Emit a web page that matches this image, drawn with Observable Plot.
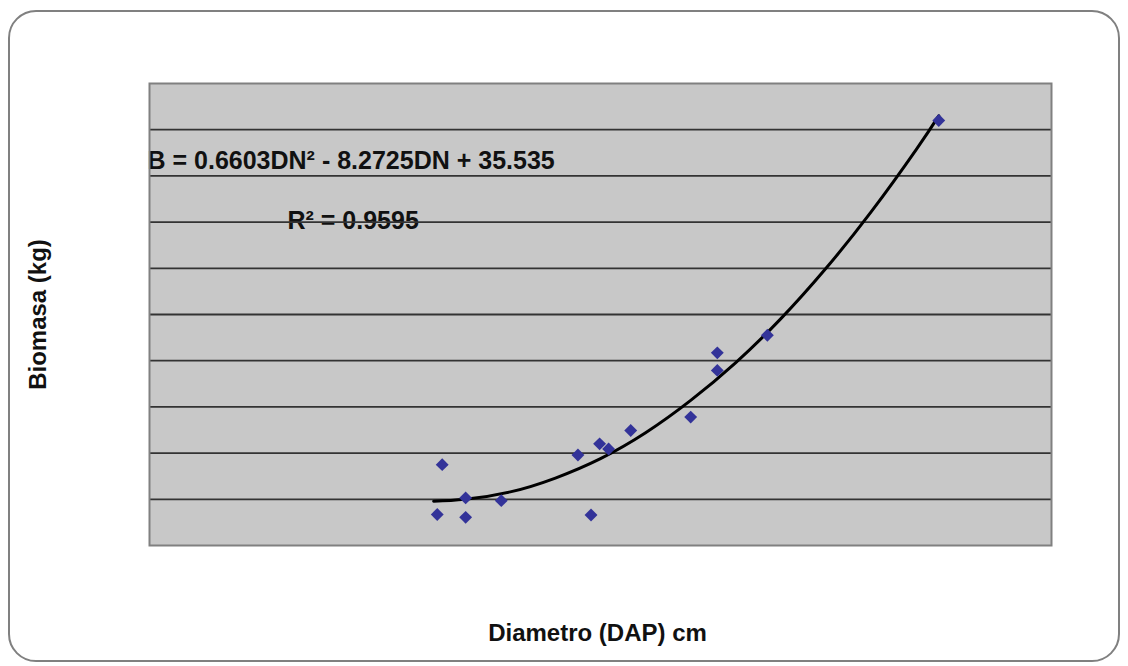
<!DOCTYPE html>
<html><head><meta charset="utf-8">
<script src="https://cdn.jsdelivr.net/npm/d3@7"></script>
<script src="https://cdn.jsdelivr.net/npm/@observablehq/plot@0.6"></script>
<style>
body{margin:0;background:#fff;}
#wrap{position:relative;width:1128px;height:666px;overflow:hidden;}
#wrap svg{display:block;}
#border{position:absolute;left:8px;top:10px;width:1112px;height:652px;border:2px solid #808080;border-radius:28px;box-sizing:border-box;pointer-events:none;}
</style></head><body>
<div id="wrap"><div id="border"></div></div>
<script>
// Scatter data (Diametro DAP cm, Biomasa kg)
const diametro = [6.49, 6.38, 7.01, 7.01, 7.80, 9.50, 9.98, 10.18, 10.67, 9.79, 12.00, 12.59, 12.59, 13.70, 17.50];
const biomasa  = [17.5, 6.7, 10.3, 6.1, 9.7, 19.6, 22.0, 20.9, 24.9, 6.6, 27.8, 41.7, 37.9, 45.5, 92.0];
// Polynomial trend line points
const trendD = [6.3, 7, 8, 9, 10, 11, 12, 13, 14, 15, 16, 17, 17.5];
const trendB = [9.6, 10.0, 11.6, 14.6, 18.8, 24.4, 31.4, 39.6, 49.1, 60.0, 72.2, 85.7, 93.0];
// Horizontal gridline values
const gridValues = [10, 20, 30, 40, 50, 60, 70, 80, 90];
const equationText = "B = 0.6603DN² - 8.2725DN + 35.535";
const r2Text = "R² = 0.9595";
const xLabel = "Diametro (DAP) cm";
const yLabel = "Biomasa (kg)";

const points = diametro.map((d, i) => ({d, b: biomasa[i]}));
const trend = trendD.map((d, i) => ({d, b: trendB[i]}));
const font = "'Liberation Sans', Arial, sans-serif";

const chart = Plot.plot({
  width: 1128,
  height: 666,
  marginLeft: 149,
  marginRight: 77,
  marginTop: 83,
  marginBottom: 121,
  style: {fontFamily: font, background: "transparent"},
  x: {domain: [0, 20], axis: null},
  y: {domain: [0, 100], axis: null},
  marks: [
    Plot.frame({fill: "#c8c8c8", stroke: "none"}),
    Plot.text([equationText], {text: d => d, frameAnchor: "top-left", textAnchor: "start", lineAnchor: "middle", dx: -2, dy: 77, fontSize: 25, fontWeight: "bold", fill: "#111", style: "letter-spacing:0.6px"}),
    Plot.text([r2Text], {text: d => d, frameAnchor: "top-left", textAnchor: "start", lineAnchor: "middle", dx: 138, dy: 137, fontSize: 25, fontWeight: "bold", fill: "#111"}),
    Plot.gridY(gridValues, {stroke: "#333", strokeOpacity: 1, strokeWidth: 1.8}),
    Plot.frame({stroke: "#808080", strokeWidth: 2}),
    Plot.line(trend, {x: "d", y: "b", stroke: "#000", strokeWidth: 3, curve: "natural"}),
    Plot.dot(points, {x: "d", y: "b", symbol: "diamond2", r: 5.8, fill: "#333399", stroke: "none"}),
    Plot.text([yLabel], {text: d => d, frameAnchor: "left", rotate: -90, dx: -111, textAnchor: "middle", lineAnchor: "middle", fontSize: 24, fontWeight: "bold", fill: "#111"}),
    Plot.text([xLabel], {text: d => d, frameAnchor: "bottom", dy: 88, dx: -3, textAnchor: "middle", lineAnchor: "middle", fontSize: 24, fontWeight: "bold", fill: "#111"})
  ]
});
document.getElementById("wrap").prepend(chart);
</script>
</body></html>
